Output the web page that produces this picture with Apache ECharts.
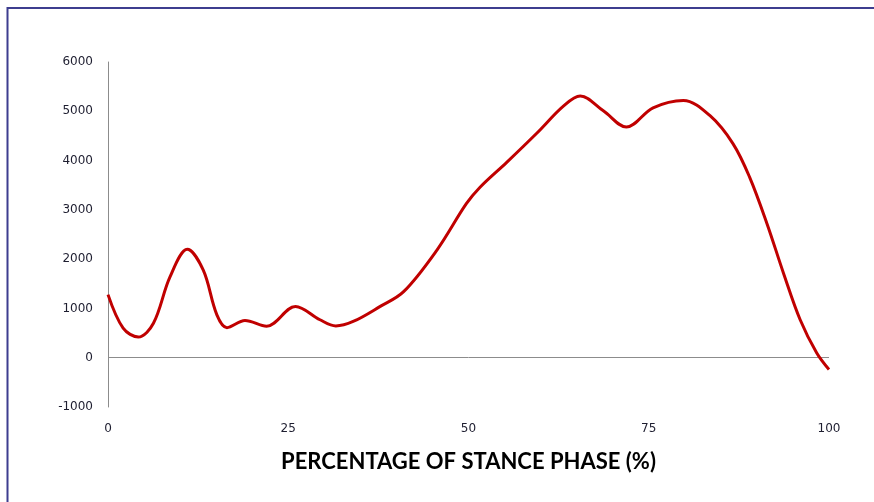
<!DOCTYPE html>
<html>
<head>
<meta charset="utf-8">
<script src="https://cdn.jsdelivr.net/npm/echarts@6/dist/echarts.min.js"></script>
<style>
  html, body { margin: 0; padding: 0; background: #ffffff; }
  #chart { width: 874px; height: 502px; }
</style>
</head>
<body>
<div id="chart"></div>
<script>
// Stance phase percentage (x) and corresponding force values (y)
const stancePct = [0, 2.1, 4.2, 6.3, 8.6, 11, 13.2, 15.1, 16.5, 19, 22, 26, 29.4, 31.6, 34, 37.7, 41, 45.6, 49.7, 51.6, 55.3, 59.5, 63.2, 65.5, 68.7, 71.9, 75.6, 79.8, 83.5, 86.7, 89, 91.4, 93.7, 96, 98.3, 100];
const forceValues = [1280, 600, 420, 700, 1640, 2200, 1780, 870, 610, 755, 640, 1040, 770, 645, 735, 1036, 1340, 2180, 3125, 3460, 3965, 4560, 5110, 5310, 5010, 4680, 5070, 5220, 4910, 4340, 3660, 2720, 1710, 770, 95, -240];

const yTicks = [-1000, 0, 1000, 2000, 3000, 4000, 5000, 6000];
const xTicks = [0, 25, 50, 75, 100];
const xTitle = 'PERCENTAGE OF STANCE PHASE (%)';

const points = stancePct.map((x, i) => [x, forceValues[i]]);

const chart = echarts.init(document.getElementById('chart'), null, { renderer: 'canvas' });

chart.setOption({
  backgroundColor: '#ffffff',
  animation: false,
  graphic: [{
    type: 'rect',
    shape: { x: 7.5, y: 8, width: 1000, height: 700 },
    style: { fill: 'none', stroke: '#3d3d8f', lineWidth: 2 },
    silent: true,
    z: 100
  }],
  grid: { left: 108, right: 45, top: 62, bottom: 95, containLabel: false },
  xAxis: {
    type: 'value',
    min: xTicks[0],
    max: xTicks[xTicks.length - 1],
    interval: 25,
    axisLine: { show: false, onZero: false },
    axisTick: { show: false },
    splitLine: { show: false },
    axisLabel: {
      margin: 16,
      color: '#1e1e30',
      fontFamily: 'DejaVu Sans',
      fontSize: 12,
      formatter: v => xTicks.includes(v) ? String(v) : ''
    },
    name: xTitle,
    nameLocation: 'middle',
    nameGap: 44,
    nameTextStyle: {
      fontFamily: 'Lato',
      fontWeight: 'bold',
      fontSize: 22,
      color: '#000000'
    }
  },
  yAxis: {
    type: 'value',
    min: yTicks[0],
    max: yTicks[yTicks.length - 1],
    interval: 1000,
    axisLine: { show: true, onZero: false, lineStyle: { color: '#8c8c8c', width: 1 } },
    axisTick: { show: false },
    splitLine: { show: false },
    axisLabel: {
      margin: 15,
      color: '#1e1e30',
      fontFamily: 'DejaVu Sans',
      fontSize: 12,
      formatter: v => String(v)
    }
  },
  series: [{
    type: 'line',
    data: points,
    smooth: 0.35,
    showSymbol: false,
    lineStyle: { color: '#c00000', width: 3 },
    markLine: {
      silent: true,
      symbol: ['none', 'none'],
      label: { show: false },
      lineStyle: { color: '#8c8c8c', width: 1, type: 'solid' },
      data: [{ yAxis: 0 }],
      z: 1
    },
    z: 3
  }]
});
</script>
</body>
</html>
